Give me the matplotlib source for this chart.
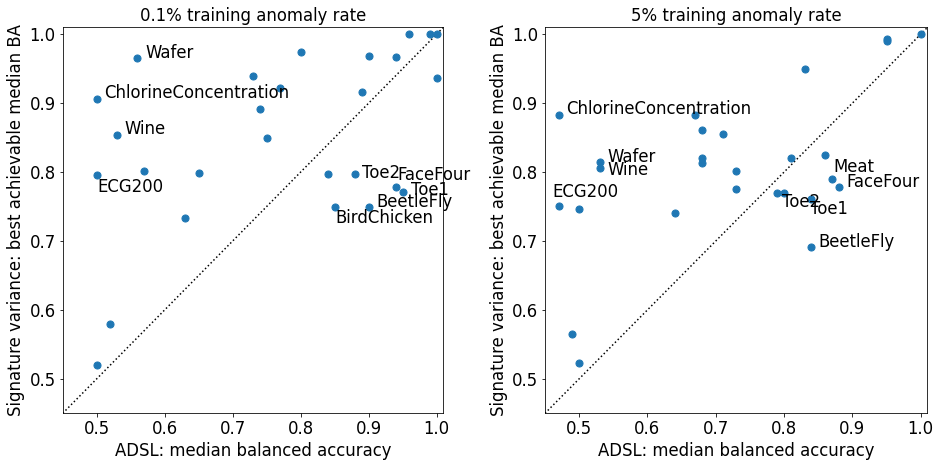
import matplotlib
matplotlib.use("Agg")
import matplotlib.pyplot as plt

# 0.1% training anomaly rate
adsl_low = [0.56, 0.80, 0.90, 0.94, 0.96, 0.99, 1.00, 1.00, 0.73, 0.77, 0.89, 0.50, 0.74, 0.53,
            0.75, 0.50, 0.57, 0.65, 0.84, 0.88, 0.94, 0.95, 0.85, 0.90, 0.63, 0.52, 0.50]
sigvar_low = [0.965, 0.974, 0.969, 0.967, 1.000, 1.000, 1.000, 0.937, 0.939, 0.922, 0.916, 0.906,
              0.892, 0.854, 0.850, 0.796, 0.802, 0.799, 0.797, 0.797, 0.779, 0.771, 0.750, 0.750,
              0.734, 0.580, 0.520]
names_low = ["Wafer", "", "", "", "", "", "", "", "", "", "", "ChlorineConcentration",
             "", "Wine", "", "ECG200", "", "", "", "Toe2", "FaceFour", "Toe1", "BirdChicken",
             "BeetleFly", "", "", ""]

# 5% training anomaly rate
adsl_high = [1.00, 0.95, 0.95, 0.83, 0.47, 0.67, 0.68, 0.71, 0.53, 0.53, 0.68, 0.68, 0.73, 0.73,
             0.81, 0.86, 0.87, 0.88, 0.79, 0.80, 0.84, 0.47, 0.50, 0.64, 0.84, 0.49, 0.50]
sigvar_high = [1.000, 0.993, 0.990, 0.950, 0.883, 0.883, 0.861, 0.856, 0.815, 0.806, 0.821, 0.813,
               0.802, 0.775, 0.821, 0.825, 0.790, 0.778, 0.770, 0.770, 0.761, 0.751, 0.747, 0.741,
               0.691, 0.565, 0.523]
names_high = ["", "", "", "", "ChlorineConcentration", "", "", "", "Wafer", "Wine", "", "", "",
              "", "", "", "Meat", "FaceFour", "", "Toe2", "Toe1", "ECG200", "", "", "BeetleFly",
              "", ""]

# label offsets (points) roughly where the label placer put them
offsets_low = {"Wafer": (7.7, 5), "ChlorineConcentration": (7.7, 5.7), "Wine": (7, 6),
               "ECG200": (0.4, -11.7), "Toe2": (7, 1.6), "FaceFour": (1.6, 12),
               "Toe1": (8.4, 2.4), "BirdChicken": (1, -11.6), "BeetleFly": (7.4, 5)}
offsets_high = {"ChlorineConcentration": (7, 5.7), "Wafer": (8, 5), "Wine": (8, -2.3),
                "ECG200": (-6.3, 14), "Meat": (1.4, 12.3), "FaceFour": (7.3, 5),
                "Toe2": (-2.3, -9.7), "Toe1": (-1, -10.3), "BeetleFly": (7.3, 5.4)}

fig = plt.figure(figsize=(933 / 72, 460 / 72), dpi=72)
ax1 = fig.add_axes([0.0672, 0.1015, 0.408, 0.839])
ax2 = fig.add_axes([0.5841, 0.1015, 0.41, 0.839])

panels = [
    (ax1, adsl_low, sigvar_low, names_low, offsets_low, "0.1% training anomaly rate"),
    (ax2, adsl_high, sigvar_high, names_high, offsets_high, "5% training anomaly rate"),
]
fs = 16.5
for ax, xs, ys, names, offs, title in panels:
    ax.plot([0.45, 1.01], [0.45, 1.01], ":", color="black", linewidth=1.5)
    ax.scatter(xs, ys, s=50, color="#1f77b4", zorder=3)
    for x, y, name in zip(xs, ys, names):
        if name:
            ax.annotate(name, (x, y), xytext=offs[name], textcoords="offset points",
                        ha="left", va="center", fontsize=fs)
    ax.set_xlim(0.45, 1.01)
    ax.set_ylim(0.45, 1.01)
    ax.set_xticks([0.5, 0.6, 0.7, 0.8, 0.9, 1.0])
    ax.set_yticks([0.5, 0.6, 0.7, 0.8, 0.9, 1.0])
    ax.tick_params(labelsize=fs)
    ax.set_title(title, fontsize=fs)
    ax.set_xlabel("ADSL: median balanced accuracy", fontsize=fs)
    ax.set_ylabel("Signature variance: best achievable median BA", fontsize=fs)

plt.savefig("out.png", dpi=72)
